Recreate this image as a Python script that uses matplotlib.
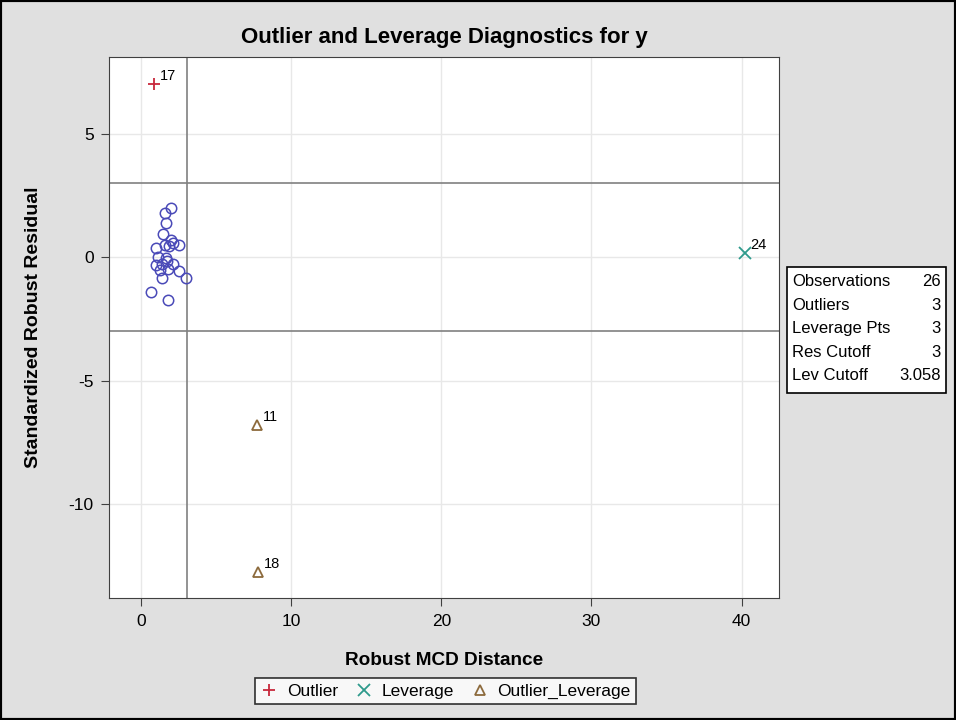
import numpy as np
import matplotlib.pyplot as plt
from matplotlib.patches import Rectangle

plt.rcParams['font.family'] = ['Liberation Sans', 'DejaVu Sans']
plt.rcParams['axes.unicode_minus'] = False

# regular observations (robust MCD distance, standardized robust residual)
dist_ok = [1.98, 1.6, 1.67, 1.49, 2.0, 2.15, 2.51, 1.6, 1.87, 1.0, 1.13,
           1.64, 1.71, 1.0, 1.38, 2.11, 1.82, 1.27, 2.56, 1.38, 3.0, 0.67, 1.78]
res_ok = [1.97, 1.77, 1.39, 0.93, 0.69, 0.58, 0.51, 0.49, 0.45, 0.38, 0.01,
          -0.05, -0.15, -0.32, -0.26, -0.26, -0.46, -0.53, -0.57, -0.86, -0.84, -1.42, -1.74]

# flagged observations
out_id, out_d, out_r = [17], [0.87], [7.0]
lev_id, lev_d, lev_r = [24], [40.2], [0.15]
ol_id, ol_d, ol_r = [11, 18], [7.73, 7.8], [-6.8, -12.75]

res_cut = 3
lev_cut = 3.058

stat_names = ['Observations', 'Outliers', 'Leverage Pts', 'Res Cutoff', 'Lev Cutoff']
stat_vals = ['26', '3', '3', '3', '3.058']

fig = plt.figure(figsize=(9.56, 7.2), dpi=100, facecolor='#e0e0e0')
fig.patches.append(Rectangle((0, 0), 1, 1, transform=fig.transFigure, fill=False,
                             edgecolor='black', linewidth=3))
ax = fig.add_axes([0.114, 0.169, 0.701, 0.752])

ax.axhline(res_cut, color='#808080', lw=1.2, zorder=1)
ax.axhline(-res_cut, color='#808080', lw=1.2, zorder=1)
ax.axvline(lev_cut, color='#808080', lw=1.2, zorder=1)

ax.plot(dist_ok, res_ok, 'o', mfc='none', mec='#4a4ab8', ms=7.5, mew=1.1, ls='none')
h1, = ax.plot(out_d, out_r, '+', color='#c8283c', ms=9, mew=1.3, ls='none', label='Outlier')
h2, = ax.plot(lev_d, lev_r, 'x', color='#2e9a8c', ms=8, mew=1.3, ls='none', label='Leverage')
h3, = ax.plot(ol_d, ol_r, '^', mfc='none', mec='#8c6a3c', ms=7, mew=1.3, ls='none',
              label='Outlier_Leverage')

for ids, xs, ys in [(out_id, out_d, out_r), (lev_id, lev_d, lev_r), (ol_id, ol_d, ol_r)]:
    for i, x, y in zip(ids, xs, ys):
        ax.annotate(str(i), (x, y), xytext=(4, 3), textcoords='offset points', fontsize=10.5)

ax.set_xlim(-2.13, 42.5)
ax.set_ylim(-13.8, 8.1)
ax.set_xticks([0, 10, 20, 30, 40])
ax.set_yticks([5, 0, -5, -10])
ax.grid(True, color='#e8e8e8', lw=1)
ax.set_axisbelow(True)
ax.tick_params(labelsize=12.5, length=6, color='#404040', pad=5)
for s in ax.spines.values():
    s.set_color('#404040')
ax.set_xlabel('Robust MCD Distance', fontsize=13.7, fontweight='bold', labelpad=17)
ax.set_ylabel('Standardized Robust Residual', fontsize=14, fontweight='bold', labelpad=19)
ax.set_title('Outlier and Leverage Diagnostics for y', fontsize=16, fontweight='bold', pad=10)

# statistics inset
fig.patches.append(Rectangle((787 / 956, 1 - 393 / 720), 159 / 956, 126 / 720,
                             transform=fig.transFigure, facecolor='white',
                             edgecolor='black', linewidth=1.2))
for k, (n, v) in enumerate(zip(stat_names, stat_vals)):
    yy = 1 - (282 + k * 23.5) / 720
    fig.text(792 / 956, yy, n, fontsize=12, va='center')
    fig.text(941 / 956, yy, v, fontsize=12, va='center', ha='right')

leg = fig.legend(handles=[h1, h2, h3], loc='center', bbox_to_anchor=(0.466, 0.04),
                 ncol=3, fontsize=12.5, frameon=True, fancybox=False, handlelength=1,
                 handletextpad=0.5, columnspacing=1.0, borderpad=0.3)
leg.get_frame().set_edgecolor('black')
leg.get_frame().set_linewidth(1.2)

fig.savefig('out.png', dpi=100, facecolor=fig.get_facecolor())
